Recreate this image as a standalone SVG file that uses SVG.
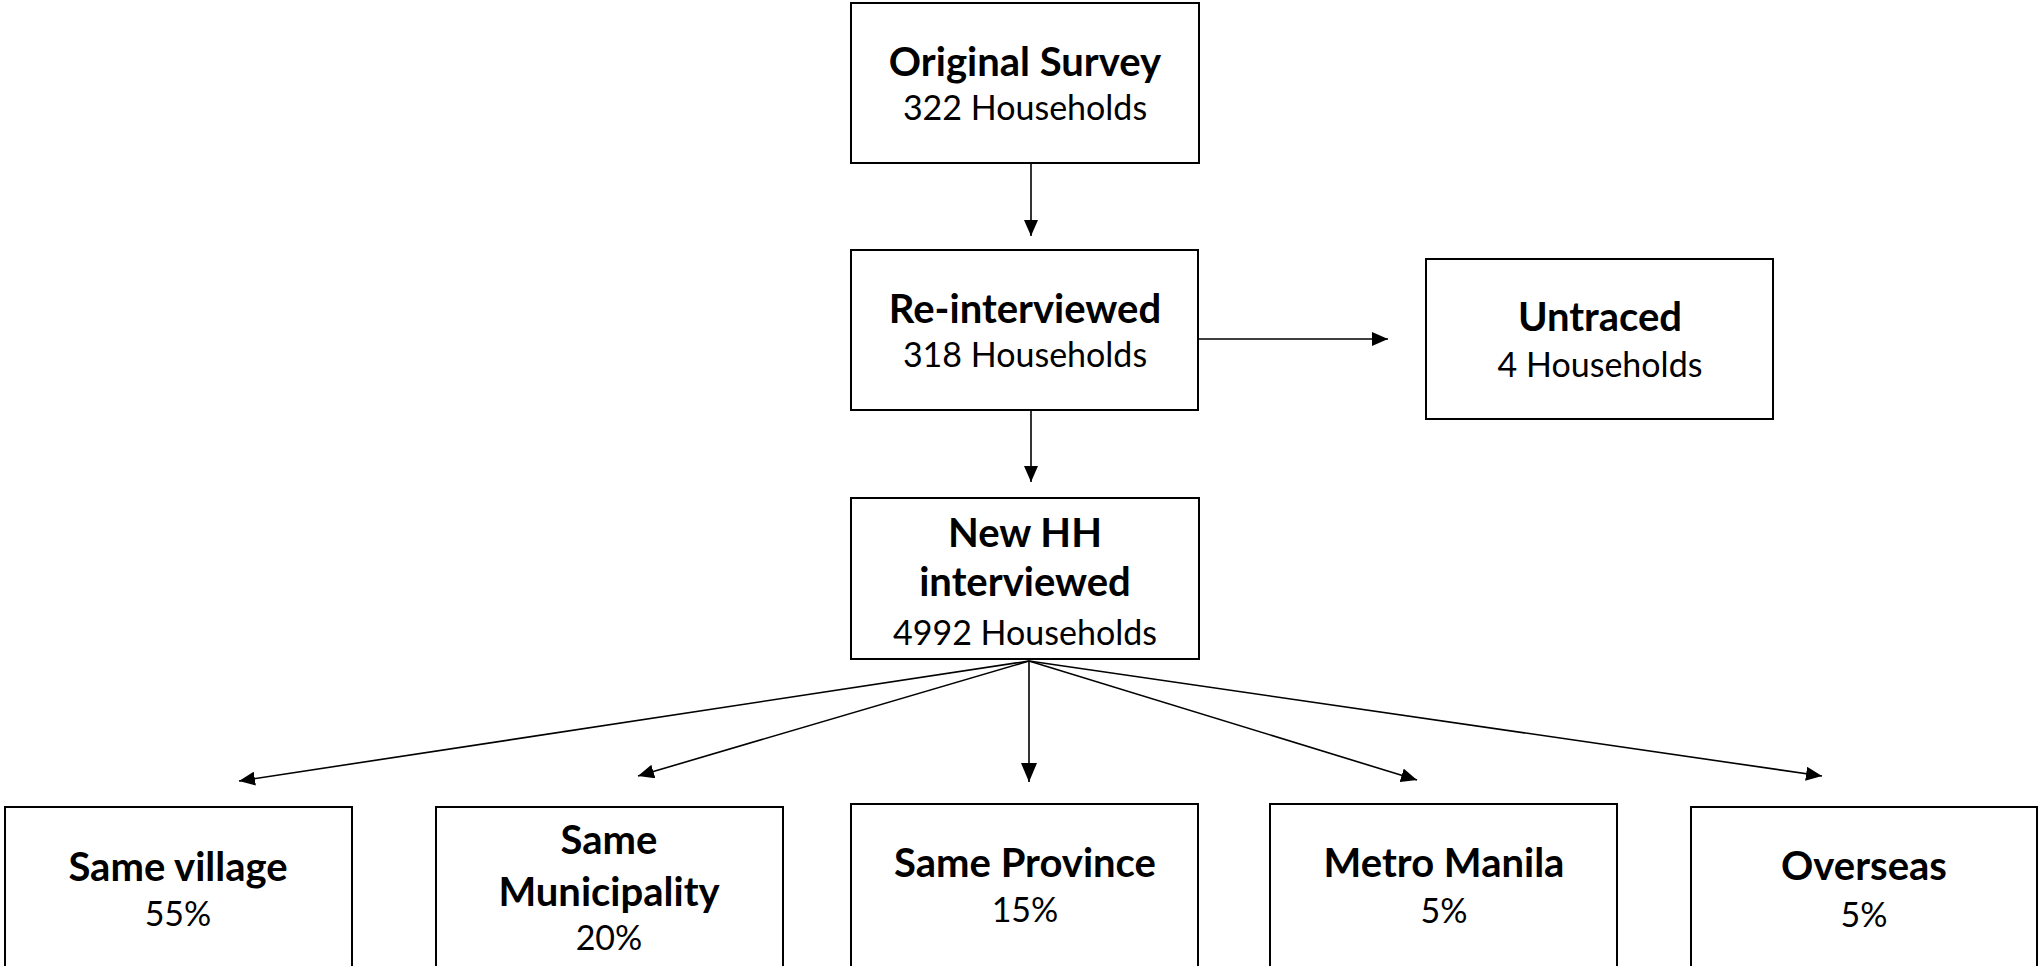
<svg xmlns="http://www.w3.org/2000/svg" width="2038" height="966" viewBox="0 0 2038 966">
<style>
.box{fill:#fff;stroke:#000;stroke-width:2}
.b{font-family:Lato,"Open Sans",sans-serif;font-weight:bold;font-size:40px;text-anchor:middle;fill:#000}
.r{font-family:Lato,"Open Sans",sans-serif;font-size:34px;text-anchor:middle;fill:#000}
.ln{stroke:#000;stroke-width:1.6;fill:none}
</style>
<defs>
<marker id="ah" markerUnits="userSpaceOnUse" markerWidth="16" markerHeight="14" refX="16" refY="7" orient="auto"><path d="M0,0 L16,7 L0,14 z" fill="#000"/></marker>
<marker id="ahL" markerUnits="userSpaceOnUse" markerWidth="19" markerHeight="16" refX="19" refY="8" orient="auto"><path d="M0,0 L19,8 L0,16 z" fill="#000"/></marker>
</defs>
<rect width="2038" height="966" fill="#fff"/>
<g id="connectors">
<line class="ln" x1="1031" y1="163" x2="1031" y2="236" marker-end="url(#ah)"/>
<line class="ln" x1="1031" y1="410" x2="1031" y2="482" marker-end="url(#ah)"/>
<line class="ln" x1="1198" y1="339" x2="1388" y2="339" marker-end="url(#ah)"/>
<line class="ln" x1="1029" y1="661" x2="239" y2="781" marker-end="url(#ah)"/>
<line class="ln" x1="1029" y1="661" x2="638" y2="776" marker-end="url(#ah)"/>
<line class="ln" x1="1029" y1="661" x2="1029" y2="782" marker-end="url(#ahL)"/>
<line class="ln" x1="1029" y1="661" x2="1417" y2="780" marker-end="url(#ah)"/>
<line class="ln" x1="1029" y1="661" x2="1822" y2="776" marker-end="url(#ah)"/>
</g>
<g id="original">
<rect class="box" x="851" y="3" width="348" height="160"/>
<text class="b" x="1025" y="76">Original Survey</text>
<text class="r" x="1025" y="120">322 Households</text>
</g>
<g id="reinterviewed">
<rect class="box" x="851" y="250" width="347" height="160"/>
<text class="b" x="1025" y="323">Re-interviewed</text>
<text class="r" x="1025" y="367">318 Households</text>
</g>
<g id="untraced">
<rect class="box" x="1426" y="259" width="347" height="160"/>
<text class="b" x="1600" y="331">Untraced</text>
<text class="r" x="1600" y="377">4 Households</text>
</g>
<g id="newhh">
<rect class="box" x="851" y="498" width="348" height="161"/>
<text class="b" x="1025" y="547">New HH</text>
<text class="b" x="1025" y="596">interviewed</text>
<text class="r" x="1025" y="645">4992 Households</text>
</g>
<g id="village">
<rect class="box" x="5" y="807" width="347" height="170"/>
<text class="b" x="178" y="881">Same village</text>
<text class="r" x="178" y="926">55%</text>
</g>
<g id="municipality">
<rect class="box" x="436" y="807" width="347" height="170"/>
<text class="b" x="609" y="854">Same</text>
<text class="b" x="609" y="906">Municipality</text>
<text class="r" x="609" y="950">20%</text>
</g>
<g id="province">
<rect class="box" x="851" y="804" width="347" height="170"/>
<text class="b" x="1025" y="877">Same Province</text>
<text class="r" x="1025" y="922">15%</text>
</g>
<g id="metro">
<rect class="box" x="1270" y="804" width="347" height="170"/>
<text class="b" x="1444" y="877">Metro Manila</text>
<text class="r" x="1444" y="923">5%</text>
</g>
<g id="overseas">
<rect class="box" x="1691" y="807" width="346" height="170"/>
<text class="b" x="1864" y="880">Overseas</text>
<text class="r" x="1864" y="927">5%</text>
</g>
</svg>
